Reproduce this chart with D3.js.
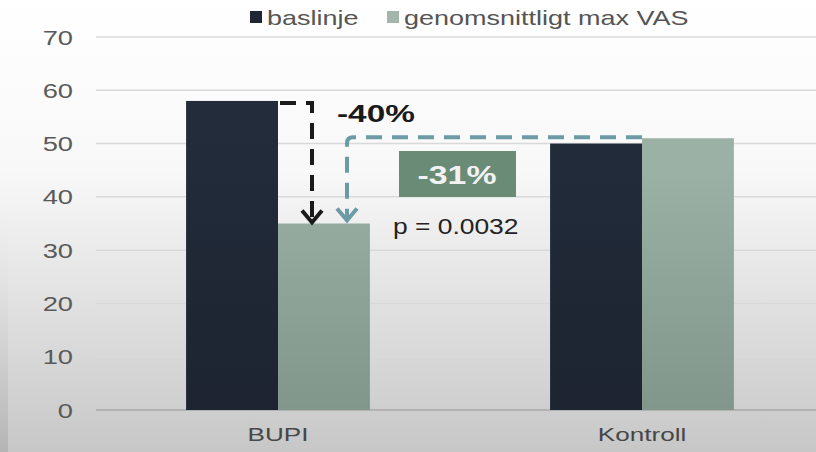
<!DOCTYPE html>
<html>
<head>
<meta charset="utf-8">
<script src="https://cdn.jsdelivr.net/npm/d3@7"></script>
<style>
  body { margin: 0; background: #fff; }
  svg { display: block; font-family: "Liberation Sans", Arial, sans-serif; }
</style>
</head>
<body>
<div id="chart"></div>
<script>
// chart data
const categories = ["BUPI", "Kontroll"];
const series = ["baslinje", "genomsnittligt max VAS"];
const baslinje = [58, 50];
const maxVas = [35, 51];
const yTicks = [0, 10, 20, 30, 40, 50, 60, 70];

const width = 816, height = 452;
const margin = { top: 37, right: -8, bottom: 42, left: 96 };
const innerH = height - margin.top - margin.bottom;
// the source photo is stretched sideways, so text is widened a bit
const stretch = 1.35;

const svg = d3.select("#chart").append("svg")
    .attr("width", width)
    .attr("height", height);

const defs = svg.append("defs");

// photographed-screen background: white at top, grey towards the bottom
const bg = defs.append("linearGradient").attr("id", "bg")
    .attr("x1", 0).attr("y1", 0).attr("x2", 0).attr("y2", 1);
bg.append("stop").attr("offset", "0%").attr("stop-color", "#ffffff");
bg.append("stop").attr("offset", "38%").attr("stop-color", "#f8f8f8");
bg.append("stop").attr("offset", "100%").attr("stop-color", "#c7c7c7");

const gGreen = defs.append("linearGradient").attr("id", "gGreen")
    .attr("x1", 0).attr("x2", 0)
    .attr("gradientUnits", "userSpaceOnUse")
    .attr("y1", 130).attr("y2", 410);
gGreen.append("stop").attr("offset", "0%").attr("stop-color", "#9bb1a5");
gGreen.append("stop").attr("offset", "100%").attr("stop-color", "#7e9287");

const gDark = defs.append("linearGradient").attr("id", "gDark")
    .attr("x1", 0).attr("x2", 0)
    .attr("gradientUnits", "userSpaceOnUse")
    .attr("y1", 100).attr("y2", 410);
gDark.append("stop").attr("offset", "0%").attr("stop-color", "#222c3a");
gDark.append("stop").attr("offset", "100%").attr("stop-color", "#1c2230");

const edge = defs.append("linearGradient").attr("id", "edge")
    .attr("x1", 0).attr("y1", 0).attr("x2", 0).attr("y2", 1);
edge.append("stop").attr("offset", "0%").attr("stop-color", "#ffffff").attr("stop-opacity", 0);
edge.append("stop").attr("offset", "100%").attr("stop-color", "#b4b4b4");

svg.append("rect").attr("width", width).attr("height", height).attr("fill", "url(#bg)");
svg.append("rect").attr("x", 0).attr("y", 150).attr("width", 8).attr("height", height - 150)
    .attr("fill", "url(#edge)");

// text placed with a horizontal stretch
function wideText(sel, x, y, sx) {
    return sel.append("text")
        .attr("transform", `translate(${x},${y}) scale(${sx},1)`);
}

const g = svg.append("g").attr("transform", `translate(0,${margin.top})`);

const y = d3.scaleLinear().domain([0, 70]).range([innerH, 0]);
const x0 = d3.scaleBand().domain(categories).range([96, 824])
    .paddingInner(0.495).paddingOuter(0.2475);
const x1 = d3.scaleBand().domain(series).range([0, x0.bandwidth()]);
const colors = ["url(#gDark)", "url(#gGreen)"];

// gridlines
g.selectAll(".grid").data(yTicks).join("line")
    .attr("x1", margin.left).attr("x2", width)
    .attr("y1", d => y(d)).attr("y2", d => y(d))
    .attr("stroke", d => d === 0 ? "#a9a9a9" : "#d9d9d9")
    .attr("stroke-width", 1.5);

// y tick labels
g.selectAll(".ytick").data(yTicks).join("text")
    .attr("transform", d => `translate(73,${y(d)}) scale(1.3,1)`)
    .attr("dy", "0.36em")
    .attr("text-anchor", "end")
    .attr("fill", "#5a5a5a").style("font-size", "21px")
    .text(d => d);

// bars
const groups = g.selectAll(".cat").data(categories).join("g")
    .attr("transform", d => `translate(${x0(d)},0)`);
groups.selectAll("rect")
    .data((d, i) => [baslinje[i], maxVas[i]].map((v, j) => ({ s: series[j], v: v, j: j })))
    .join("rect")
    .attr("x", d => x1(d.s))
    .attr("y", d => y(d.v))
    .attr("width", x1.bandwidth())
    .attr("height", d => innerH - y(d.v))
    .attr("fill", d => colors[d.j]);

// x labels
g.selectAll(".xlab").data(categories).join("text")
    .attr("transform", d => `translate(${x0(d) + x0.bandwidth() / 2},${innerH + 31}) scale(1.45,1)`)
    .attr("text-anchor", "middle")
    .attr("fill", "#474747").style("font-size", "18px")
    .text(d => d);

// legend
const legend = svg.append("g");
const legItems = [
    { label: series[0], color: "#1f2633", x: 250 },
    { label: series[1], color: "#a4b6ab", x: 387 }
];
legend.selectAll("rect").data(legItems).join("rect")
    .attr("x", d => d.x).attr("y", 11).attr("width", 12).attr("height", 12)
    .attr("fill", d => d.color);
legend.selectAll("text").data(legItems).join("text")
    .attr("transform", d => `translate(${d.x + 17},25) scale(${stretch},1)`)
    .attr("fill", "#555").style("font-size", "20px")
    .text(d => d.label);

// annotations: black -40% arrow from BUPI baseline down to BUPI max VAS
const bx = x0("BUPI") + x1.bandwidth() + 34;
const ann = g.append("g");
ann.append("path")
    .attr("d", `M${x0("BUPI") + x1.bandwidth() + 2},${y(baslinje[0]) + 2}H${bx}V${y(maxVas[0]) - 4}`)
    .attr("fill", "none").attr("stroke", "#1a1a1a").attr("stroke-width", 4)
    .attr("stroke-dasharray", "16,10");
ann.append("path")
    .attr("d", `M${bx - 10},${y(maxVas[0]) - 13}L${bx},${y(maxVas[0]) - 1}L${bx + 10},${y(maxVas[0]) - 13}`)
    .attr("fill", "none").attr("stroke", "#1a1a1a").attr("stroke-width", 4);

// teal -31% arrow from Kontroll max VAS level to BUPI max VAS
const tx = x0("BUPI") + x1.bandwidth() + 69;
const ty = y(maxVas[1]) - 1;
ann.append("path")
    .attr("d", `M${x0("Kontroll") + x1.bandwidth()},${ty}H${tx + 6}Q${tx},${ty} ${tx},${ty + 6}V${y(maxVas[0]) - 5}`)
    .attr("fill", "none").attr("stroke", "#6c9aa5").attr("stroke-width", 4)
    .attr("stroke-dasharray", "16,10");
ann.append("path")
    .attr("d", `M${tx - 10},${y(maxVas[0]) - 15}L${tx},${y(maxVas[0]) - 3}L${tx + 10},${y(maxVas[0]) - 15}`)
    .attr("fill", "none").attr("stroke", "#6c9aa5").attr("stroke-width", 4);

wideText(ann, 337, 122 - margin.top, 1.45)
    .attr("fill", "#1a1a1a").style("font-size", "23px").style("font-weight", "bold")
    .text("-40%");

ann.append("rect")
    .attr("x", 399).attr("y", 151 - margin.top).attr("width", 117).attr("height", 46)
    .attr("fill", "#6a8c76");
wideText(ann, 457, 184 - margin.top, 1.3)
    .attr("text-anchor", "middle")
    .attr("fill", "#f2f2f2").style("font-size", "26px").style("font-weight", "bold")
    .text("-31%");

wideText(ann, 393, 234 - margin.top, 1.2)
    .attr("fill", "#222").style("font-size", "22px")
    .text("p = 0.0032");
</script>
</body>
</html>
